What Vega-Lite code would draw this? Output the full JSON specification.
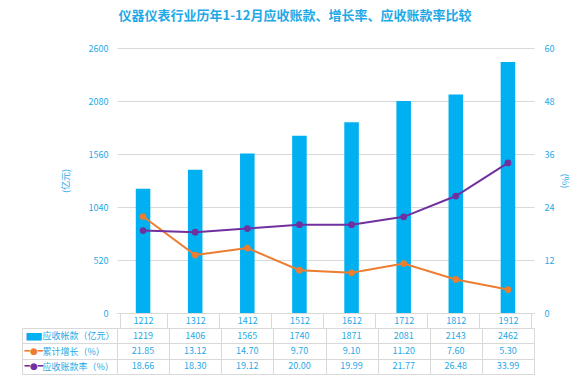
{
  "$schema": "https://vega.github.io/schema/vega-lite/v6.json",
  "background": "white",
  "padding": {"left": 21, "top": 10, "right": 5, "bottom": 5},
  "title": {
    "text": "仪器仪表行业历年1-12月应收账款、增长率、应收账款率比较",
    "font": "Noto Sans CJK SC",
    "fontSize": 13,
    "fontWeight": "bold",
    "color": "#1fa9e6",
    "anchor": "middle",
    "frame": "bounds",
    "offset": 21
  },
  "config": {
    "view": {"stroke": null},
    "font": "Noto Sans CJK SC",
    "axis": {"labelColor": "#1fa9e6", "titleColor": "#1fa9e6", "labelFontSize": 9, "titleFontSize": 9, "titleFontWeight": "normal", "labelFont": "Noto Sans CJK SC", "titleFont": "Noto Sans CJK SC"}
  },
  "datasets": {
    "main": [
      {"cat": "1212", "amount": 1219, "growth": 21.85, "rate": 18.66},
      {"cat": "1312", "amount": 1406, "growth": 13.12, "rate": 18.30},
      {"cat": "1412", "amount": 1565, "growth": 14.70, "rate": 19.12},
      {"cat": "1512", "amount": 1740, "growth": 9.70, "rate": 20.00},
      {"cat": "1612", "amount": 1871, "growth": 9.10, "rate": 19.99},
      {"cat": "1712", "amount": 2081, "growth": 11.20, "rate": 21.77},
      {"cat": "1812", "amount": 2143, "growth": 7.60, "rate": 26.48},
      {"cat": "1912", "amount": 2462, "growth": 5.30, "rate": 33.99}
    ]
  },
  "bounds": "flush",
  "spacing": 15,
  "vconcat": [
    {
      "width": 417,
      "height": 265,
      "data": {"name": "main"},
      "layer": [
        {
          "mark": {"type": "bar", "color": "#00b0f0", "width": {"band": 0.31}},
          "encoding": {
            "x": {
              "field": "cat", "type": "nominal", "sort": null,
              "axis": {"orient": "bottom", "title": null, "labelAngle": 0, "domain": true, "domainColor": "#d9d9d9", "ticks": true, "tickBand": "extent", "tickSize": 15, "tickColor": "#d9d9d9", "labelBaseline": "middle", "labelPadding": -7.5, "grid": false}
            },
            "y": {
              "field": "amount", "type": "quantitative",
              "scale": {"domain": [0, 2600]},
              "axis": {"values": [0, 520, 1040, 1560, 2080, 2600], "format": "d", "title": "(亿元)", "titlePadding": 18, "ticks": false, "domain": false, "labelPadding": 9, "grid": true, "gridColor": "#d9d9d9"}
            }
          }
        },
        {
          "transform": [{"fold": ["growth", "rate"], "as": ["series", "value"]}],
          "mark": {"type": "line", "strokeWidth": 2, "point": {"filled": true, "size": 45}},
          "encoding": {
            "x": {"field": "cat", "type": "nominal", "sort": null},
            "y": {
              "field": "value", "type": "quantitative",
              "scale": {"domain": [0, 60]},
              "axis": {"orient": "right", "values": [0, 12, 24, 36, 48, 60], "title": "(%)", "titlePadding": 6, "ticks": false, "domain": false, "grid": false, "labelPadding": 10}
            },
            "color": {"field": "series", "type": "nominal", "scale": {"domain": ["growth", "rate"], "range": ["#ed7d31", "#7030a0"]}, "legend": null}
          }
        }
      ],
      "resolve": {"scale": {"y": "independent"}}
    },
    {
      "width": 417,
      "height": 46,
      "data": {"name": "main"},
      "view": {"stroke": "#d9d9d9"},
      "layer": [
        {
          "layer": [
            {
              "mark": {"type": "text", "color": "#1fa9e6", "fontSize": 9},
              "encoding": {
                "x": {
                  "field": "cat", "type": "nominal", "sort": null,
                  "axis": {"title": null, "labels": false, "ticks": false, "domain": false, "grid": true, "gridColor": "#d9d9d9", "tickBand": "extent"}
                },
                "y": {
                  "datum": "应收帐款（亿元）", "type": "nominal",
                  "scale": {"domain": ["应收帐款（亿元）", "累计增长（%）", "应收账款率（%）"]},
                  "axis": {"orient": "left", "title": null, "labelAlign": "left", "labelBaseline": "middle", "labelPadding": -20, "ticks": true, "tickSize": 95, "tickColor": "#d9d9d9", "tickBand": "extent", "grid": true, "gridColor": "#d9d9d9", "domain": false}
                },
                "text": {"field": "amount", "type": "quantitative", "format": "d"}
              }
            },
            {
              "mark": {"type": "text", "color": "#1fa9e6", "fontSize": 9},
              "encoding": {
                "x": {"field": "cat", "type": "nominal", "sort": null},
                "y": {"datum": "累计增长（%）", "type": "nominal"},
                "text": {"field": "growth", "type": "quantitative", "format": ".2f"}
              }
            },
            {
              "mark": {"type": "text", "color": "#1fa9e6", "fontSize": 9},
              "encoding": {
                "x": {"field": "cat", "type": "nominal", "sort": null},
                "y": {"datum": "应收账款率（%）", "type": "nominal"},
                "text": {"field": "rate", "type": "quantitative", "format": ".2f"}
              }
            }
          ]
        },
        {
          "mark": {"type": "text", "text": ""},
          "encoding": {
            "x": {"field": "cat", "type": "nominal", "sort": null},
            "y": {
              "datum": "应收帐款（亿元）", "type": "nominal",
              "axis": {
                "orient": "left", "offset": 95, "title": null, "ticks": false, "grid": false,
                "domain": true, "domainColor": "#d9d9d9",
                "labelAlign": "left", "labelBaseline": "middle", "labelPadding": -2,
                "labelFont": "DejaVu Sans",
                "labelFontSize": {"condition": {"test": "datum.value === '应收帐款（亿元）'", "value": 20}, "value": 9},
                "labelExpr": "datum.value === '应收帐款（亿元）' ? '▬' : '━●━'",
                "labelColor": {"condition": [{"test": "datum.value === '累计增长（%）'", "value": "#ed7d31"}, {"test": "datum.value === '应收账款率（%）'", "value": "#7030a0"}], "value": "#00b0f0"}
              }
            }
          }
        }
      ],
      "resolve": {"axis": {"y": "independent"}}
    }
  ]
}
